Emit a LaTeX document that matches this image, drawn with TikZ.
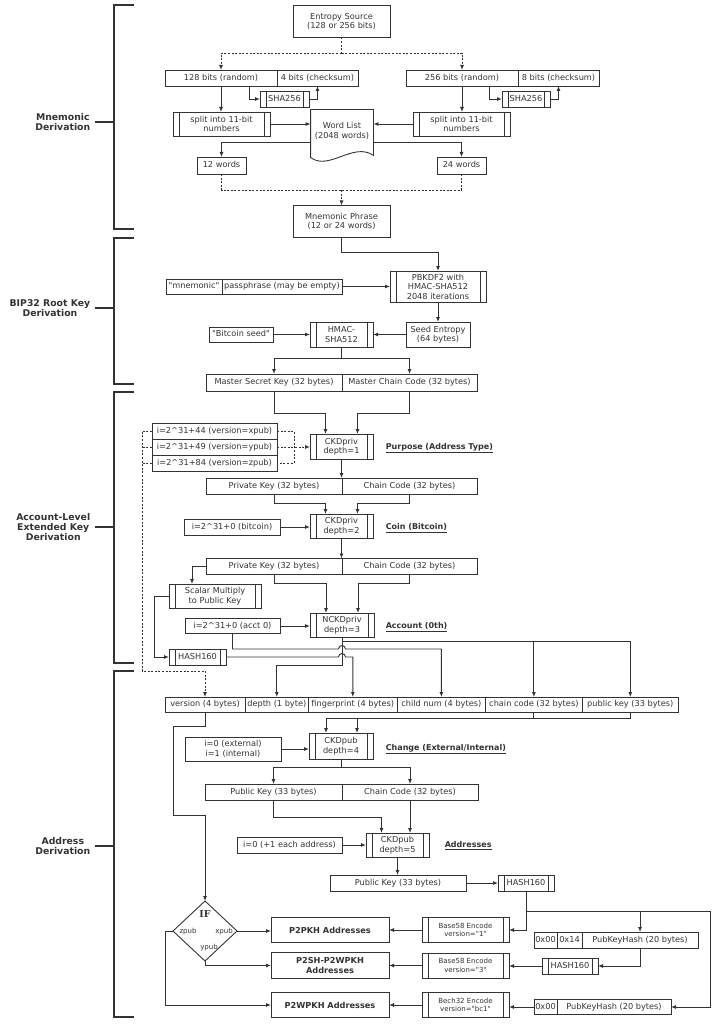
\documentclass[tikz,border=0pt]{standalone}
\usepackage{fontspec}
\setmainfont{DejaVu Sans}
\newfontfamily\iffont{DejaVu Serif}
\usepackage{tikz}
\usetikzlibrary{positioning}
\usetikzlibrary{shapes.geometric}
\usetikzlibrary{arrows.meta}
\definecolor{ln}{HTML}{333333}
\newcommand{\boxsz}{\fontsize{8.2}{9.5}\selectfont}
\newcommand{\encsz}{\fontsize{7}{8.3}\selectfont}
\newcommand{\labsz}{\fontsize{8}{9.4}\selectfont\bfseries}
\newcommand{\secsz}{\fontsize{9.3}{10.4}\selectfont\bfseries}
\newcommand{\crt}{\textasciicircum}
\newcommand{\qt}{\textquotedbl}
\tikzset{
  box/.style={draw, rectangle, inner sep=1pt, outer sep=0pt, align=center, font=\boxsz},
  cell/.style={box, minimum height=#1, text height=6.4pt, text depth=1.9pt},
  cell/.default=16,
  proc/.style={box, path picture={%
    \draw ([xshift=6pt]path picture bounding box.north west) -- ([xshift=6pt]path picture bounding box.south west);
    \draw ([xshift=-6pt]path picture bounding box.north east) -- ([xshift=-6pt]path picture bounding box.south east);}},
  addr/.style={box, font=\boxsz\bfseries, minimum width=118},
  enc/.style={proc, font=\encsz, minimum width=87, minimum height=25},
  stage/.style={anchor=west, font=\labsz}, % Schrittnamen
  sect/.style={anchor=east, align=center, font=\secsz}, % Abschnitte
  dsh/.style={dash pattern=on 2pt off 1.6pt},
  brk/.style={line width=1.4pt},
  pin/.style={font=\encsz, inner sep=0pt}
}

\begin{document}
\begin{tikzpicture}[x=1pt, y=-1pt, line width=0.9pt, color=ln,
>={Latex[length=5pt,width=4pt]} % Pfeilspitzen
]
\useasboundingbox (0,0) rectangle (721,1024);

%Abschnitte
\draw[brk] (134,5) -| (114,229) -- (134,229) (114,122) -- (95,122);
\node[sect] (secA) at (94,122) {Mnemonic\\Derivation};
\draw[brk] (134,238) -| (114,384) -- (134,384) (114,308) -- (95,308);
\node[sect] (secB) at (94,308) {BIP32 Root Key\\Derivation};
\draw[brk] (134,392) -| (114,663) -- (134,663) (114,527) -- (95,527);
\node[sect] (secC) at (94,527) {Account-Level\\Extended Key\\Derivation};
\draw[brk] (134,671) -| (114,1017) -- (134,1017) (114,846) -- (95,846);
\node[sect] (secD) at (94,846) {Address\\Derivation};

%Mnemonic
\node[box, minimum width=97, minimum height=32] (entropy) at (341.5,21.5) {Entropy Source\\(128 or 256 bits)};
\node[cell, minimum width=112] (r128) at (221,78) {128 bits (random)};
\node[cell, minimum width=81, right=0pt of r128] (chk128) {4 bits (checksum)};
\node[cell, minimum width=112] (r256) at (462,78) {256 bits (random)};
\node[cell, minimum width=81, right=0pt of r256] (chk256) {8 bits (checksum)};
\node[proc, minimum width=49, minimum height=16] (shaA) at (284.5,99) {SHA256};
\node[proc, minimum width=48, minimum height=16] (shaB) at (526,99) {SHA256};
\node[proc, minimum width=97, minimum height=24] (splitA) at (221.5,124) {split into 11-bit\\numbers};
\node[proc, minimum width=97, minimum height=24] (splitB) at (461.5,124) {split into 11-bit\\numbers};
\node[minimum width=62, minimum height=42, inner sep=0pt, align=center, font=\boxsz] (wl) at (342,131) {Word List\\(2048 words)};
\draw (wl.north west) -- ([yshift=-5pt]wl.south west)
  .. controls +(18,14) and +(-20,-14) .. ([yshift=-3pt]wl.south east) -- (wl.north east) -- cycle;
\node[cell=17, minimum width=49] (w12) at (221.5,165.5) {12 words};
\node[cell=17, minimum width=49] (w24) at (461.5,165.5) {24 words};
\node[box, minimum width=97, minimum height=32] (phrase) at (341.5,221.5) {Mnemonic Phrase\\(12 or 24 words)};

%BIP32
\node[proc, minimum width=96, minimum height=31] (pbkdf) at (438,286.5) {PBKDF2 with\\HMAC-SHA512\\2048 iterations};
\node[cell=15, minimum width=56] (mnem) at (194,286.5) {\qt mnemonic\qt};
\node[cell=15, minimum width=120, right=0pt of mnem] (pass) {passphrase (may be empty)};
\node[box, minimum width=64, minimum height=25] (seed) at (438,334.5) {Seed Entropy\\(64 bytes)};
\node[proc, minimum width=63, minimum height=25] (hmac) at (341.5,334.5) {HMAC-\\SHA512};
\node[cell=15, minimum width=64] (btcseed) at (241,334.5) {\qt Bitcoin seed\qt};
\node[cell=17, minimum width=136] (msk) at (274,382.5) {Master Secret Key (32 bytes)};
\node[cell=17, minimum width=135, right=0pt of msk] (mcc) {Master Chain Code (32 bytes)};

%Account
\node[cell, minimum width=125] (ix) at (214.5,431) {i=2\crt31+44 (version=xpub)};
\node[cell, minimum width=125, below=0pt of ix] (iy) {i=2\crt31+49 (version=ypub)};
\node[cell, minimum width=125, below=0pt of iy] (iz) {i=2\crt31+84 (version=zpub)};
\node[proc, minimum width=63, minimum height=25] (ckd1) at (341.5,446.5) {CKDpriv\\depth=1};
\node[stage] (purpose) at (382,448) {\underline{Purpose (Address Type)}};
\node[cell, minimum width=136] (pk1) at (274,486) {Private Key (32 bytes)};
\node[cell, minimum width=135, right=0pt of pk1] (cc1) {Chain Code (32 bytes)};
\node[cell, minimum width=96] (ibtc) at (232,527) {i=2\crt31+0 (bitcoin)};
\node[proc, minimum width=63, minimum height=24] (ckd2) at (341.5,526) {CKDpriv\\depth=2};
\node[stage] (coin) at (382,528) {\underline{Coin (Bitcoin)}};
\node[cell, minimum width=136] (pk2) at (274,566.5) {Private Key (32 bytes)};
\node[cell, minimum width=135, right=0pt of pk2] (cc2) {Chain Code (32 bytes)};
\node[proc, minimum width=92, minimum height=24] (scalar) at (215,596) {Scalar Multiply\\to Public Key};
\node[cell=15, minimum width=95] (iacct) at (232.5,626) {i=2\crt31+0 (acct 0)};
\node[proc, minimum width=64, minimum height=24] (nckd) at (342,625) {NCKDpriv\\depth=3};
\node[stage] (account) at (382,627) {\underline{Account (0th)}};
\node[proc, minimum width=57, minimum height=16] (hashA) at (197.5,657) {HASH160};

%erweiterter Schluessel
\node[cell=15, minimum width=80] (ver) at (205,704.5) {version (4 bytes)};
\node[cell=15, minimum width=63.6, right=0pt of ver] (depth) {depth (1 byte)};
\node[cell=15, minimum width=88.4, right=0pt of depth] (finger) {fingerprint (4 bytes)};
\node[cell=15, minimum width=88.7, right=0pt of finger] (child) {child num (4 bytes)};
\node[cell=15, minimum width=96.3, right=0pt of child] (cc) {chain code (32 bytes)};
\node[cell=15, minimum width=96.6, right=0pt of cc] (pub) {public key (33 bytes)};

%Address
\node[box, minimum width=96, minimum height=24] (iext) at (233,749) {i=0 (external)\\i=1 (internal)};
\node[proc, minimum width=64, minimum height=26] (ckd4) at (341,746) {CKDpub\\depth=4};
\node[stage] (change) at (382,749) {\underline{Change (External/Internal)}};
\node[cell, minimum width=137] (pk4) at (273.5,792) {Public Key (33 bytes)};
\node[cell, minimum width=136, right=0pt of pk4] (cc4) {Chain Code (32 bytes)};
\node[cell, minimum width=105] (iaddr) at (289.5,845) {i=0 (+1 each address)};
\node[proc, minimum width=63, minimum height=24] (ckd5) at (397.5,845) {CKDpub\\depth=5};
\node[stage] (addresses) at (441,846) {\underline{Addresses}};
\node[cell, minimum width=136] (pk5) at (398,883) {Public Key (33 bytes)};
\node[proc, minimum width=56, minimum height=16] (hashB) at (526,883) {HASH160};

\node[diamond, draw, minimum width=64, minimum height=60, inner sep=0pt, outer sep=0pt] (ifd) at (205,931) {};
\node[font=\iffont\bfseries\fontsize{9.5}{11}\selectfont, inner sep=0pt] (iflab) at (205,914) {IF};
\node[pin] (zp) at (188,932) {zpub};
\node[pin] (xp) at (224,932) {xpub};
\node[pin] (yp) at (209,948) {ypub};

\node[addr, minimum height=25] (p2pkh) at (330,930) {P2PKH Addresses};
\node[addr, minimum height=26] (p2sh) at (330,965.5) {P2SH-P2WPKH\\Addresses};
\node[addr, minimum height=25] (p2wpkh) at (330,1005) {P2WPKH Addresses};
\node[enc] (b58a) at (465.5,930) {Base58 Encode\\version=\qt 1\qt};
\node[enc] (b58b) at (465.5,965.5) {Base58 Encode\\version=\qt 3\qt};
\node[enc] (bech) at (465.5,1005) {Bech32 Encode\\version=\qt bc1\qt};
\node[cell, minimum width=23] (z00a) at (545.5,940) {0x00};
\node[cell, minimum width=25, right=0pt of z00a] (z14) {0x14};
\node[cell, minimum width=116, right=0pt of z14] (pkh20a) {PubKeyHash (20 bytes)};
\node[proc, minimum width=56, minimum height=16] (hashC) at (570,966) {HASH160};
\node[cell=15, minimum width=23] (z00b) at (545.5,1007) {0x00};
\node[cell=15, minimum width=114, right=0pt of z00b] (pkh20b) {PubKeyHash (20 bytes)};

%Leitungen Mnemonic
\coordinate (ejoin) at (341.5,53);
\coordinate (mjoin) at (341.5,190);
\draw[dsh] (entropy.south) -- (ejoin);
\draw[dsh,->] (ejoin) -| (r128.north);
\draw[dsh,->] (ejoin) -| (r256.north);
\draw[->] ([xshift=28pt]r128.south) |- (shaA.west);
\draw[->] (shaA.east) -| (chk128.south);
\draw[->] ([xshift=27pt]r256.south) |- (shaB.west);
\draw[->] (shaB.east) -| (chk256.south);
\draw[->] (r128.south) -- (r128.south |- splitA.north);
\draw[->] (r256.south) -- (r256.south |- splitB.north);
\draw[->] (splitA.east) -- (splitA.east -| wl.west);
\draw[->] (splitB.west) -- (splitB.west -| wl.east);
\draw[->] ([yshift=-11pt]wl.west) -| (w12.north);
\draw[->] ([yshift=-11pt]wl.east) -| (w24.north);
\draw[dsh] (w12.south) |- (mjoin) -| (w24.south);
\draw[dsh,->] (mjoin) -- (phrase.north);

%Leitungen BIP32
\draw[->] (phrase.south) -- ++(0,15) -| (pbkdf.north);
\draw[->] (pass.east) -- (pbkdf.west);
\draw[->] (pbkdf.south) -- (seed.north);
\draw[->] (seed.west) -- (hmac.east);
\draw[->] (btcseed.east) -- (hmac.west);
\draw[->] (hmac.south) -- ++(0,11) -| (msk.north);
\draw[->] (hmac.south) -- ++(0,11) -| (mcc.north);

%Leitungen Account
\draw[->] (msk.south) -- ++(0,22) -| ([xshift=-16pt]ckd1.north);
\draw[->] (mcc.south) -- ++(0,22) -| ([xshift=16pt]ckd1.north);
\coordinate (dcorner) at (142,671);
\draw[dsh] (ix.east) -| ([xshift=17pt]iz.east) -- (iz.east);
\draw[dsh,->] (iy.east) -- (iy.east -| ckd1.west);
\draw[dsh,->] (ix.west) -| (dcorner) -| (ver.north);
\draw[dsh] (iy.west) -- (iy.west -| dcorner);
\draw[dsh] (iz.west) -- (iz.west -| dcorner);
\draw[->] (ckd1.south) -- (ckd1.south |- pk1.north);
\draw[->] (pk1.south) -- ++(0,9) -| ([xshift=-16pt]ckd2.north);
\draw[->] (cc1.south) -- ++(0,9) -| ([xshift=16pt]ckd2.north);
\draw[->] (ibtc.east) -- (ibtc.east -| ckd2.west);
\draw[->] (ckd2.south) -- (ckd2.south |- pk2.north);
\draw[->] (pk2.west) -| ([xshift=-23pt]scalar.north);
\draw[->] (pk2.south) -- ++(0,9) -| ([xshift=-16pt]nckd.north);
\draw[->] (cc2.south) -- ++(0,9) -| ([xshift=16pt]nckd.north);
\draw[->] (scalar.west) -- ++(-15,0) |- (hashA.west);
\draw[->] (iacct.east) -- (iacct.east -| nckd.west);
\coordinate (hopA) at (342,649);
\coordinate (hopB) at (342,657);
\draw[->] (nckd.south) -- ++(0,4) -| (cc.north);
\draw[->] (nckd.south) -- ++(0,4) -| (pub.north);
\draw[->] (nckd.south) -- ++(0,28) -| (depth.north);
\draw[->] (iacct.south) |- ([xshift=-3.5pt]hopA) arc[start angle=180, end angle=0, radius=3.5pt] -| (child.north);
\draw[->] (hashA.east) -- ([xshift=-3.5pt]hopB) arc[start angle=180, end angle=0, radius=3.5pt] -| (finger.north);

%Leitungen Address
\draw[->] (ver.south) -- ++(0,14) -- ++(-32,0) -- ++(0,89) -- ++(32,0) -- (ifd.north);
\draw[->] (cc.south) -- ++(0,6) -| ([xshift=16pt]ckd4.north);
\draw[->] (pub.south) -- ++(0,6) -| ([xshift=-15pt]ckd4.north);
\draw[->] (iext.east) -- (iext.east -| ckd4.west);
\draw[->] (ckd4.south) -- ++(0,8) -| (pk4.north);
\draw[->] (ckd4.south) -- ++(0,8) -| (cc4.north);
\draw[->] (pk4.south) -- ++(0,17) -| ([xshift=-16pt]ckd5.north);
\draw[->] (cc4.south) -- (cc4.south |- ckd5.north);
\draw[->] (iaddr.east) -- (ckd5.west);
\draw[->] (ckd5.south) -- (ckd5.south |- pk5.north);
\draw[->] (pk5.east) -- (hashB.west);
\draw[->] (hashB.south) |- (b58a.east);
\draw[->] (hashB.south) -- ++(0,20) -| (pkh20a.north);
\draw[->] (hashB.south) -- ++(0,20) -- ++(184,0) |- (pkh20b.east);
\draw[->] (pkh20a.south) |- (hashC.east);
\draw[->] (hashC.west) -- (hashC.west -| b58b.east);
\draw[->] (z00b.west) -- (z00b.west -| bech.east);
\draw[->] (b58a.west) -- (p2pkh.east);
\draw[->] (b58b.west) -- (p2sh.east);
\draw[->] (bech.west) -- (p2wpkh.east);
\draw[->] (ifd.east) -- (ifd.east -| p2pkh.west);
\draw[->] (ifd.south) |- (p2sh.west);
\draw[->] (ifd.west) -- ++(-8,0) |- (p2wpkh.west);

\end{tikzpicture}
\end{document}
